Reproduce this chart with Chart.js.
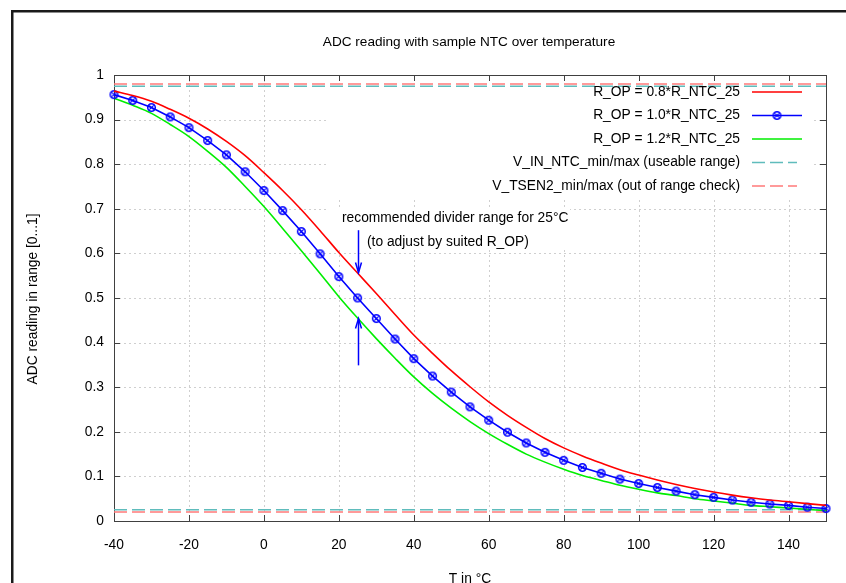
<!DOCTYPE html>
<html>
<head>
  <title>ADC reading with sample NTC over temperature</title>
  <script src="https://cdn.jsdelivr.net/npm/chart.js"></script>
  <style>
    html, body { margin: 0; padding: 0; background: #fff; }
  </style>
</head>
<body>
  <canvas id="chart" width="846" height="583"></canvas>

  <script>
    // temperatures (°C), one sample every 5 degrees
    const temps = [-40, -35, -30, -25, -20, -15, -10, -5, 0, 5, 10, 15, 20, 25, 30, 35, 40, 45, 50,
                   55, 60, 65, 70, 75, 80, 85, 90, 95, 100, 105, 110, 115, 120, 125, 130, 135, 140, 145, 150];

    // ADC reading for the three divider resistors
    const adcRop08 = [0.964, 0.954, 0.941, 0.923, 0.903, 0.879, 0.851, 0.819, 0.781, 0.741, 0.698, 0.651, 0.602,
                      0.556, 0.510, 0.463, 0.417, 0.376, 0.337, 0.301, 0.267, 0.237, 0.210, 0.185, 0.164, 0.146,
                      0.130, 0.115, 0.103, 0.092, 0.082, 0.073, 0.065, 0.058, 0.052, 0.047, 0.043, 0.039, 0.035];
    const adcRop10 = [0.956, 0.943, 0.927, 0.906, 0.882, 0.853, 0.821, 0.783, 0.741, 0.696, 0.649, 0.599, 0.548,
                      0.500, 0.454, 0.408, 0.364, 0.325, 0.289, 0.256, 0.226, 0.199, 0.175, 0.154, 0.136, 0.120,
                      0.107, 0.094, 0.084, 0.075, 0.067, 0.059, 0.053, 0.047, 0.042, 0.038, 0.035, 0.031, 0.028];
    const adcRop12 = [0.948, 0.932, 0.914, 0.889, 0.862, 0.829, 0.793, 0.750, 0.705, 0.656, 0.606, 0.555, 0.503,
                      0.455, 0.409, 0.365, 0.323, 0.286, 0.253, 0.223, 0.196, 0.172, 0.150, 0.132, 0.116, 0.102,
                      0.091, 0.080, 0.071, 0.063, 0.057, 0.050, 0.045, 0.040, 0.035, 0.032, 0.029, 0.026, 0.023];

    // horizontal limit levels (min, max)
    const vInNtcLimits = [0.025, 0.975];
    const vTsen2Limits = [0.02, 0.98];

    const seriesLabels = [
      "R_OP = 0.8*R_NTC_25",
      "R_OP = 1.0*R_NTC_25",
      "R_OP = 1.2*R_NTC_25",
      "V_IN_NTC_min/max (useable range)",
      "V_TSEN2_min/max (out of range check)"
    ];

    const xTickValues = [-40, -20, 0, 20, 40, 60, 80, 100, 120, 140];
    const yTickValues = [0, 0.1, 0.2, 0.3, 0.4, 0.5, 0.6, 0.7, 0.8, 0.9, 1];

    // annotation arrows at 25°C (from value -> to value)
    const arrows = [
      { x: 25, from: 0.652, to: 0.557 },
      { x: 25, from: 0.349, to: 0.454 }
    ];
    const noteLines = ["recommended divider range for 25°C", "(to adjust by suited R_OP)"];

    const FAMILY = "'Liberation Sans', Arial, sans-serif";
    const FONT = "13.8px " + FAMILY;
    const TITLE_FONT = "13.6px " + FAMILY;
    const RED = "#ff0000", BLUE = "#0000ff", GREEN = "#00ee00";
    const CYAN_DASH = "#5fbcbc", RED_DASH = "#ff7a7a";
    const DASH = [13, 5];

    function markerImage() {
      const c = document.createElement("canvas");
      c.width = 11; c.height = 11;
      const g = c.getContext("2d");
      g.strokeStyle = BLUE;
      g.lineWidth = 1.5;
      g.beginPath(); g.arc(5.5, 5.5, 3.8, 0, 2 * Math.PI); g.stroke();
      g.lineWidth = 1.2;
      g.beginPath();
      g.moveTo(3.3, 3.3); g.lineTo(7.7, 7.7);
      g.moveTo(7.7, 3.3); g.lineTo(3.3, 7.7);
      g.stroke();
      return c;
    }
    const marker = markerImage();

    const pts = arr => temps.map((t, i) => ({ x: t, y: arr[i] }));
    const level = v => [{ x: temps[0], y: v }, { x: temps[temps.length - 1], y: v }];

    const datasets = [
      { data: pts(adcRop08), borderColor: RED, borderWidth: 1.6, pointRadius: 0, cubicInterpolationMode: "monotone" },
      { data: pts(adcRop10), borderColor: BLUE, borderWidth: 1.6, pointStyle: marker, pointRadius: 5, clip: false },
      { data: pts(adcRop12), borderColor: GREEN, borderWidth: 1.6, pointRadius: 0, cubicInterpolationMode: "monotone" }
    ];
    vInNtcLimits.forEach(v => datasets.push({ data: level(v), borderColor: CYAN_DASH, borderWidth: 1.5, borderDash: DASH, pointRadius: 0 }));
    vTsen2Limits.forEach(v => datasets.push({ data: level(v), borderColor: RED_DASH, borderWidth: 1.5, borderDash: DASH, pointRadius: 0 }));

    function line(ctx, x1, y1, x2, y2) {
      ctx.beginPath(); ctx.moveTo(x1, y1); ctx.lineTo(x2, y2); ctx.stroke();
    }

    const gnuplotLook = {
      id: "gnuplotLook",
      beforeDatasetsDraw(chart) {
        const { ctx, chartArea: a, scales: { x, y } } = chart;
        ctx.save();
        // dotted grid
        ctx.strokeStyle = "#cfcfcf";
        ctx.lineWidth = 1;
        ctx.setLineDash([2, 3]);
        xTickValues.forEach(v => {
          const px = Math.round(x.getPixelForValue(v)) + 0.5;
          if (px > a.left + 1 && px < a.right - 1) line(ctx, px, a.top, px, a.bottom);
        });
        yTickValues.forEach(v => {
          const py = Math.round(y.getPixelForValue(v)) + 0.5;
          if (py > a.top + 1 && py < a.bottom - 1) line(ctx, a.left, py, a.right, py);
        });
        ctx.setLineDash([]);
        // opaque key and label boxes hide the grid
        ctx.fillStyle = "#ffffff";
        ctx.fillRect(328, a.top + 1, 484, 122);
        ctx.fillRect(327, 207, 243, 43);
        // plot border
        ctx.strokeStyle = "#404040";
        ctx.strokeRect(a.left + 0.5, a.top + 0.5, a.right - a.left, a.bottom - a.top);
        // inward ticks on all four sides
        const tl = 6;
        xTickValues.forEach(v => {
          const px = Math.round(x.getPixelForValue(v)) + 0.5;
          line(ctx, px, a.bottom, px, a.bottom - tl);
          line(ctx, px, a.top, px, a.top + tl);
        });
        yTickValues.forEach(v => {
          const py = Math.round(y.getPixelForValue(v)) + 0.5;
          line(ctx, a.left, py, a.left + tl, py);
          line(ctx, a.right, py, a.right - tl, py);
        });
        ctx.restore();
      },
      afterDatasetsDraw(chart) {
        const { ctx, scales: { x, y } } = chart;
        ctx.save();
        // notes
        ctx.font = FONT;
        ctx.fillStyle = "#000";
        ctx.textBaseline = "middle";
        ctx.textAlign = "left";
        ctx.fillText(noteLines[0], 342, 218);
        ctx.fillText(noteLines[1], 367, 242);
        // arrows
        ctx.strokeStyle = BLUE;
        ctx.lineWidth = 1.5;
        arrows.forEach(ar => {
          const px = Math.round(x.getPixelForValue(ar.x)) + 0.5;
          const p1 = y.getPixelForValue(ar.from), p2 = y.getPixelForValue(ar.to);
          const dir = Math.sign(p2 - p1);
          line(ctx, px, p1, px, p2);
          ctx.beginPath();
          ctx.moveTo(px - 3, p2 - dir * 10);
          ctx.lineTo(px, p2);
          ctx.lineTo(px + 3, p2 - dir * 10);
          ctx.stroke();
        });
        // key
        const styles = [
          { c: RED }, { c: BLUE, m: true }, { c: GREEN },
          { c: CYAN_DASH, d: DASH }, { c: RED_DASH, d: DASH }
        ];
        const rowY = [92, 115.5, 139, 162.5, 186];
        seriesLabels.forEach((lab, i) => {
          ctx.fillStyle = "#000";
          ctx.textAlign = "right";
          ctx.fillText(lab, 740, rowY[i]);
          ctx.strokeStyle = styles[i].c;
          ctx.lineWidth = 1.5;
          ctx.setLineDash(styles[i].d || []);
          line(ctx, 752, rowY[i], styles[i].d ? 797 : 802, rowY[i]);
          ctx.setLineDash([]);
          if (styles[i].m) ctx.drawImage(marker, 771.5, rowY[i] - 5.5);
        });
        ctx.restore();
      },
      afterDraw(chart) {
        const { ctx } = chart;
        ctx.save();
        ctx.fillStyle = "#000";
        ctx.textAlign = "center";
        ctx.textBaseline = "middle";
        ctx.font = TITLE_FONT;
        ctx.fillText("ADC reading with sample NTC over temperature", 469, 42);
        ctx.font = FONT;
        ctx.fillText("T in °C", 470, 579);
        ctx.translate(33, 299);
        ctx.rotate(-Math.PI / 2);
        ctx.fillText("ADC reading in range [0...1]", 0, 0);
        ctx.restore();
        // outer frame (left and top edges)
        ctx.save();
        ctx.fillStyle = "#1a1a1a";
        ctx.fillRect(11, 10, 2.5, 583);
        ctx.fillRect(11, 10, 846, 2.5);
        ctx.restore();
      }
    };

    Chart.defaults.font.family = FAMILY;
    Chart.defaults.font.size = 13.8;
    Chart.defaults.color = "#000";

    new Chart(document.getElementById("chart").getContext("2d"), {
      type: "line",
      data: { datasets: datasets },
      plugins: [gnuplotLook],
      options: {
        responsive: false,
        animation: false,
        layout: { padding: { top: 75, right: 20, left: 0, bottom: 0 } },
        plugins: { legend: { display: false }, tooltip: { enabled: false }, title: { display: false } },
        scales: {
          x: {
            type: "linear", min: -40, max: 150,
            afterBuildTicks: s => { s.ticks = xTickValues.map(v => ({ value: v })); },
            afterFit: s => { s.height = 62; },
            grid: { display: false, drawTicks: false },
            border: { display: false },
            ticks: { padding: 16, maxRotation: 0, autoSkip: false }
          },
          y: {
            type: "linear", min: 0, max: 1,
            afterBuildTicks: s => { s.ticks = yTickValues.map(v => ({ value: v })); },
            afterFit: s => { s.width = 114; },
            grid: { display: false, drawTicks: false },
            border: { display: false },
            ticks: { padding: 10, callback: v => String(+v.toFixed(1)) }
          }
        }
      }
    });
  </script>
</body>
</html>
